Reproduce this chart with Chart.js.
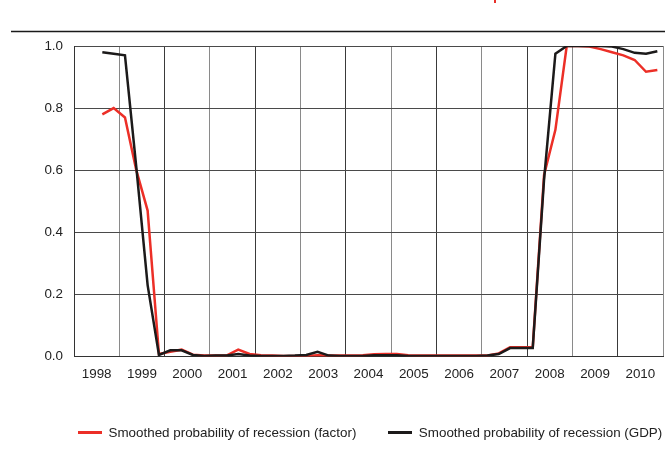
<!DOCTYPE html>
<html>
<head>
<meta charset="utf-8">
<script src="https://cdn.jsdelivr.net/npm/chart.js@4/dist/chart.umd.min.js"></script>
<style>
  html, body { margin: 0; padding: 0; background: #fff; }
  #wrap { width: 665px; height: 473px; position: relative; }
  #legend { position: absolute; left: 78px; top: 423px; height: 18px; display: flex; align-items: center;
            font-family: 'Liberation Sans', Arial, sans-serif; font-size: 13.4px; color: #222; white-space: nowrap; }
  #legend .item { display: flex; align-items: center; margin-right: 32px; }
  #legend .swatch { display: inline-block; width: 24px; height: 3px; margin-right: 6.5px; }
</style>
</head>
<body>
<div id="wrap"><canvas id="c" width="665" height="473"></canvas><div id="legend"></div></div>
<script>
// Quarterly observations, 1998Q3 .. 2010Q4
const quarters = [
  '1998Q3','1998Q4',
  '1999Q1','1999Q2','1999Q3','1999Q4',
  '2000Q1','2000Q2','2000Q3','2000Q4',
  '2001Q1','2001Q2','2001Q3','2001Q4',
  '2002Q1','2002Q2','2002Q3','2002Q4',
  '2003Q1','2003Q2','2003Q3','2003Q4',
  '2004Q1','2004Q2','2004Q3','2004Q4',
  '2005Q1','2005Q2','2005Q3','2005Q4',
  '2006Q1','2006Q2','2006Q3','2006Q4',
  '2007Q1','2007Q2','2007Q3','2007Q4',
  '2008Q1','2008Q2','2008Q3','2008Q4',
  '2009Q1','2009Q2','2009Q3','2009Q4',
  '2010Q1','2010Q2','2010Q3','2010Q4'
];
const factorProb = [
  0.78, 0.80,
  0.77, 0.60, 0.47, 0.008,
  0.015, 0.022, 0.006, 0.003,
  0.003, 0.004, 0.022, 0.008,
  0.004, 0.003, 0.002, 0.002,
  0.002, 0.004, 0.003, 0.003,
  0.003, 0.004, 0.007, 0.008,
  0.008, 0.004, 0.003, 0.003,
  0.003, 0.003, 0.003, 0.003,
  0.003, 0.010, 0.030, 0.030,
  0.030, 0.585, 0.73, 1.0,
  1.0, 0.998, 0.99, 0.98,
  0.97, 0.955, 0.917, 0.923
];
const gdpProb = [
  0.98, 0.975,
  0.97, 0.61, 0.23, 0.005,
  0.02, 0.02, 0.005, 0.002,
  0.003, 0.003, 0.008, 0.003,
  0.002, 0.002, 0.002, 0.003,
  0.005, 0.015, 0.003, 0.002,
  0.002, 0.002, 0.004, 0.004,
  0.004, 0.002, 0.002, 0.002,
  0.002, 0.002, 0.002, 0.002,
  0.003, 0.008, 0.027, 0.027,
  0.027, 0.57, 0.975, 1.0,
  1.0, 1.0, 1.0, 0.998,
  0.99, 0.978, 0.975, 0.983
];
const yearLabels = ['1998','1999','2000','2001','2002','2003','2004','2005','2006','2007','2008','2009','2010'];
const yTicks = [0, 0.2, 0.4, 0.6, 0.8, 1.0];
const seriesNames = ['Smoothed probability of recession (factor)', 'Smoothed probability of recession (GDP)'];
const seriesColors = ['#ec2f27', '#1c1a1a'];

function qToX(q) {
  const yr = parseInt(q.slice(0, 4), 10);
  const qq = parseInt(q.slice(5), 10);
  return yr + (qq - 0.5) / 4;
}
function toPoints(vals) {
  return quarters.map((q, i) => ({ x: qToX(q), y: vals[i] }));
}

const FONT = "'Liberation Sans', Arial, sans-serif";
const FSIZE = 13.4;
const firstYear = parseInt(yearLabels[0], 10);
const lastYear = parseInt(yearLabels[yearLabels.length - 1], 10) + 1;

const decor = {
  id: 'decor',
  beforeDraw(chart) {
    const c = chart.ctx;
    c.save();
    c.fillStyle = '#fff';
    c.fillRect(0, 0, chart.width, chart.height);
    c.restore();
  },
  afterDraw(chart) {
    const c = chart.ctx;
    c.save();
    c.strokeStyle = '#1a1a1a';
    c.lineWidth = 1.3;
    c.beginPath();
    c.moveTo(11, 31.5);
    c.lineTo(665, 31.5);
    c.stroke();
    c.strokeStyle = '#e8302a';
    c.lineWidth = 2;
    c.beginPath();
    c.moveTo(495, 0);
    c.lineTo(495, 3);
    c.stroke();
    c.restore();
  }
};

const chart = new Chart(document.getElementById('c'), {
  type: 'line',
  data: {
    datasets: [
      {
        label: seriesNames[0],
        data: toPoints(factorProb),
        borderColor: seriesColors[0],
        backgroundColor: seriesColors[0],
        borderWidth: 2.5,
        pointRadius: 0,
        tension: 0,
        order: 2
      },
      {
        label: seriesNames[1],
        data: toPoints(gdpProb),
        borderColor: seriesColors[1],
        backgroundColor: seriesColors[1],
        borderWidth: 2.5,
        pointRadius: 0,
        tension: 0,
        order: 1
      }
    ]
  },
  options: {
    responsive: false,
    animation: false,
    devicePixelRatio: 1,
    layout: { padding: { left: 0, right: 2, top: 46, bottom: 79.5 } },
    plugins: {
      legend: { display: false },
      tooltip: { enabled: false }
    },
    scales: {
      x: {
        type: 'linear',
        min: firstYear,
        max: lastYear,
        afterFit(s) { s.height = 37; s.paddingLeft = 0; s.paddingRight = 0; },
        border: { display: true, color: '#333', width: 1 },
        grid: {
          drawTicks: false,
          lineWidth: 1,
          color(ctx) {
            const v = ctx.tick ? ctx.tick.value : 0;
            if (Math.abs(v - Math.round(v)) > 1e-6) return 'rgba(0,0,0,0)';
            return (Math.round(v) - firstYear) % 2 === 0 ? '#3a3a3a' : '#8a8a8a';
          }
        },
        ticks: {
          stepSize: 0.5,
          autoSkip: false,
          maxRotation: 0,
          padding: 10,
          color: '#222',
          font: { family: FONT, size: FSIZE },
          callback(v) {
            if (Math.abs(v - Math.floor(v) - 0.5) < 1e-6) {
              const idx = Math.floor(v) - firstYear;
              return yearLabels[idx] || '';
            }
            return '';
          }
        }
      },
      y: {
        min: 0,
        max: 1,
        afterFit(s) { s.width = 74; },
        afterBuildTicks(s) { s.ticks = yTicks.map(v => ({ value: v })); },
        border: { display: true, color: '#333', width: 1 },
        grid: { drawTicks: false, color: '#4a4a4a', lineWidth: 1 },
        ticks: {
          padding: 11,
          color: '#222',
          font: { family: FONT, size: FSIZE },
          callback(v) { return Number(v).toFixed(1); }
        }
      }
    }
  },
  plugins: [decor]
});

// Legend built from the chart's datasets
const legendEl = document.getElementById('legend');
chart.data.datasets.forEach(ds => {
  const item = document.createElement('div');
  item.className = 'item';
  const sw = document.createElement('span');
  sw.className = 'swatch';
  sw.style.background = ds.borderColor;
  const tx = document.createElement('span');
  tx.textContent = ds.label;
  item.appendChild(sw);
  item.appendChild(tx);
  legendEl.appendChild(item);
});
</script>
</body>
</html>
